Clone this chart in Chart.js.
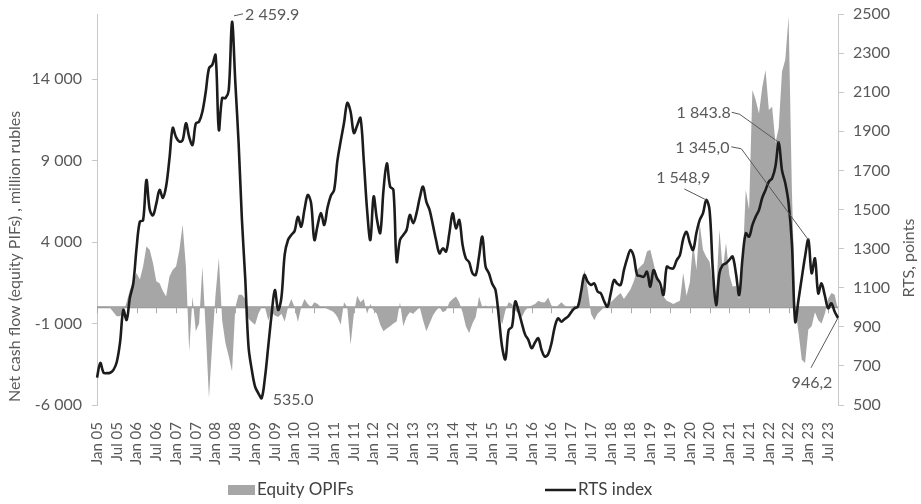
<!DOCTYPE html>
<html>
<head>
<meta charset="utf-8">
<script src="https://cdn.jsdelivr.net/npm/chart.js@4.4.1/dist/chart.umd.min.js"></script>
<style>
  html, body { margin: 0; padding: 0; background: #fff; }
  #wrap { position: relative; width: 921px; height: 504px; }
</style>
</head>
<body>
<div id="wrap"><canvas id="rtsChart"></canvas></div>
<script>
// monthly data, Jan 2005 .. Oct 2023
const monthNames = ["Jan","Feb","Mar","Apr","May","Jun","Jul","Aug","Sep","Oct","Nov","Dec"];
const firstYear = 2005;
const monthCount = 226;

// RTS index, points (right axis)
const rts = [
  640, 715, 665, 663, 665, 680, 720, 820, 986, 935, 1050, 1120,          // 2005
  1300, 1438, 1445, 1651, 1500, 1470, 1530, 1600, 1560, 1620, 1760, 1917, // 2006
  1870, 1847, 1855, 1941, 1870, 1830, 1940, 1950, 2000, 2100, 2222, 2240, // 2007
  2290, 1907, 2070, 2070, 2110, 2459.9, 2150, 1840, 1450, 1150, 800, 680, // 2008
  594, 560, 535, 640, 800, 960, 1088, 986, 1050, 1270, 1344, 1370,        // 2009
  1390, 1463, 1412, 1500, 1574, 1533, 1344, 1420, 1482, 1421, 1510, 1570, // 2010
  1600, 1750, 1850, 1942, 2045, 2000, 1891, 1930, 1968, 1753, 1500, 1344, // 2011
  1566, 1450, 1380, 1600, 1736, 1617, 1600, 1233, 1344, 1370, 1395, 1472, // 2012
  1430, 1480, 1560, 1617, 1540, 1497, 1420, 1340, 1276, 1301, 1285, 1380, // 2013
  1480, 1404, 1446, 1320, 1250, 1230, 1174, 1165, 1260, 1361, 1207, 1174, // 2014
  1120, 1088, 952, 798, 734, 884, 900, 1029, 980, 918, 860, 832,          // 2015
  790, 820, 841, 781, 747, 760, 816, 900, 943, 926, 940, 952,             // 2016
  975, 995, 1003, 1080, 1165, 1130, 1114, 1122, 1080, 1071, 1030, 1003,   // 2017
  1071, 1139, 1120, 1114, 1190, 1250, 1293, 1259, 1165, 1160, 1156, 1182, // 2018
  1105, 1190, 1150, 1122, 1063, 1207, 1200, 1199, 1240, 1267, 1350, 1386, // 2019
  1330, 1293, 1380, 1446, 1480, 1548.9, 1497, 1190, 1011, 1174, 1216, 1225, // 2020
  1242, 1259, 1174, 1063, 1250, 1378, 1361, 1420, 1463, 1497, 1560, 1600, // 2021
  1642, 1660, 1720, 1843.8, 1700, 1634, 1532, 1327, 926, 1037, 1150, 1260, // 2022
  1345.0, 1174, 1250, 1071, 1122, 1060, 995, 1020, 977, 946.2             // 2023
];

// net cash flow of equity OPIFs, million rubles (left axis)
const opif = [
  0, 0, 50, 0, -50, -300, -560, -560, -300, 300, 1070, 1600,              // 2005
  2100, 1700, 2500, 3730, 3530, 2710, 1590, 1480, 1000, 660, 1890, 2300,  // 2006
  2500, 3500, 5060, 2500, -2710, 660, -1480, -1000, 2500, -1370, -5570, -2200, // 2007
  800, 3020, -800, -2200, -3000, -3940, 0, 770, 770, 500, -700, -900,     // 2008
  -1070, -400, 0, 0, -800, -300, -500, -600, -400, -870, 0, 500,          // 2009
  0, -900, 0, 500, 200, 0, 300, 200, 0, 0, -100, -200,                    // 2010
  -300, -600, -1070, 300, 0, -2300, -400, 700, 300, 500, -400, 200,       // 2011
  -200, -400, -1070, -1480, -1300, -1170, -1000, -870, 300, -1170, -600, -300, // 2012
  -400, -200, 0, -800, -1480, -1000, -500, -200, 0, -300, -200, 300,      // 2013
  500, 660, 300, -300, -1170, -1580, -1000, -600, 660, 0, 100, 0,         // 2014
  100, 0, -300, -1070, -200, 300, 200, -200, -400, -600, -200, 0,         // 2015
  100, 200, 400, 300, 300, 600, 100, 0, 100, 300, 100, 0,                 // 2016
  0, 100, 0, 800, 2300, 1100, -400, -800, -400, -200, 0, 200,             // 2017
  300, 500, 700, 870, 500, 800, 1100, 1600, 2300, 2500, 2700, 3420,       // 2018
  3530, 2700, 1800, 1100, 660, 400, 300, 200, 300, 400, 2100, 700,        // 2019
  1500, 3940, 2300, 5160, 3530, 3100, 2800, 1500, 870, 4750, 2300, 3940,  // 2020
  2000, 1280, 1300, 500, 2500, 7210, 6000, 13340, 12730, 11900, 13500, 14570, // 2021
  12100, 12300, 10100, 11000, 14470, 15200, 17840, 7200, 0, -1500, -3220, -3420, // 2022
  -1370, -1170, -300, -800, -1000, -400, 500, 870, 770, -200              // 2023
];

const leftTicks = [-6000, -1000, 4000, 9000, 14000];
const rightTicks = [500, 700, 900, 1100, 1300, 1500, 1700, 1900, 2100, 2300, 2500];

// labelled points of the RTS line
const noteIndex = [41, 50, 185, 207, 216, 225];
const noteText = ["2 459.9", "535.0", "1 548,9", "1 843.8", "1 345,0", "946,2"];

const months = [];
for (let y = firstYear; months.length < monthCount; y++) {
  for (let m = 0; m < 12 && months.length < monthCount; m++) {
    months.push(monthNames[m] + " " + String(y).slice(2));
  }
}

const grey = "#595959";
const fontFamily = "Lato, 'Open Sans', sans-serif";

function fmtThousands(v) {
  const s = Math.abs(v).toString().replace(/\B(?=(\d{3})+(?!\d))/g, " ");
  return (v < 0 ? "-" : "") + s;
}

// where each note's text sits relative to its point, and its leader line
const noteLayout = {
  41:  { dx: 13, dy: -7, align: "left", leader: [[2, -6], [11, -8]] },
  50:  { dx: 11, dy: 2, align: "left", leader: null },
  185: { dx: -23, dy: -22, align: "center", leader: [[-22, -11], [0, 0]] },
  207: { dx: -75, dy: -29, align: "center", leader: [[-47, -30], [-39, -28], [0, 0]] },
  216: { dx: -106, dy: -92, align: "center", leader: [[-77, -93], [-67, -91], [0, 0]] },
  225: { dx: -26, dy: 65, align: "center", leader: [[-27, 50], [0, 0]] }
};

const decor = {
  id: "decor",
  beforeDatasetsDraw(chart) {
    const { ctx, chartArea, scales } = chart;
    const y0 = scales.y.getPixelForValue(0);
    ctx.save();
    ctx.strokeStyle = "#999";
    ctx.lineWidth = 2;
    ctx.beginPath();
    ctx.moveTo(chartArea.left, y0);
    ctx.lineTo(chartArea.right, y0);
    ctx.stroke();
    ctx.lineWidth = 1;
    ctx.strokeStyle = "#aaa";
    for (let i = 0; i < months.length; i += 6) {
      const x = Math.round(scales.x.getPixelForValue(i)) + 0.5;
      ctx.beginPath();
      ctx.moveTo(x, y0);
      ctx.lineTo(x, y0 + 6);
      ctx.stroke();
    }
    ctx.restore();
  },
  afterDraw(chart) {
    const { ctx, chartArea, scales } = chart;
    ctx.save();
    ctx.fillStyle = grey;
    ctx.strokeStyle = grey;
    ctx.lineWidth = 1;
    ctx.font = "16px " + fontFamily;
    ctx.textBaseline = "middle";

    // value notes
    noteIndex.forEach((idx, k) => {
      const px = scales.x.getPixelForValue(idx);
      const py = scales.y1.getPixelForValue(rts[idx]);
      const lay = noteLayout[idx];
      ctx.textAlign = lay.align;
      ctx.fillText(noteText[k], px + lay.dx, py + lay.dy);
      if (lay.leader) {
        ctx.beginPath();
        lay.leader.forEach((p, j) => {
          if (j === 0) ctx.moveTo(px + p[0], py + p[1]);
          else ctx.lineTo(px + p[0], py + p[1]);
        });
        ctx.stroke();
      }
    });

    // axis titles, both read bottom to top
    ctx.textAlign = "left";
    ctx.save();
    ctx.translate(15, chartArea.bottom - 3);
    ctx.rotate(-Math.PI / 2);
    ctx.fillText("Net cash flow (equity PIFs) , million rubles", 0, 0);
    ctx.restore();
    ctx.save();
    ctx.translate(909, scales.y1.getPixelForValue(1050));
    ctx.rotate(-Math.PI / 2);
    ctx.fillText("RTS, points", 0, 0);
    ctx.restore();

    // legend
    const ly = 490;
    ctx.font = "17px " + fontFamily;
    ctx.fillStyle = "#a6a6a6";
    ctx.fillRect(228, ly - 5, 27, 10);
    ctx.fillStyle = "#404040";
    ctx.fillText("Equity OPIFs", 257, ly);
    ctx.strokeStyle = "#1c1c1c";
    ctx.lineWidth = 2.5;
    ctx.beginPath();
    ctx.moveTo(545, ly);
    ctx.lineTo(576, ly);
    ctx.stroke();
    ctx.fillText("RTS index", 578, ly);
    ctx.restore();
  }
};

const ctx = document.getElementById("rtsChart").getContext("2d");
new Chart(ctx, {
  type: "line",
  data: {
    labels: months,
    datasets: [
      {
        label: "RTS index",
        data: rts,
        yAxisID: "y1",
        borderColor: "#1c1c1c",
        borderWidth: 2.6,
        pointRadius: 0,
        tension: 0.35,
        fill: false,
        order: 0
      },
      {
        label: "Equity OPIFs",
        data: opif,
        yAxisID: "y",
        borderWidth: 0,
        backgroundColor: "#a6a6a6",
        pointRadius: 0,
        tension: 0,
        fill: "origin",
        order: 1
      }
    ]
  },
  options: {
    responsive: true,
    maintainAspectRatio: false,
    animation: false,
    layout: { padding: { top: 14, left: 0, right: 0, bottom: 0 } },
    plugins: {
      legend: { display: false },
      tooltip: { enabled: false }
    },
    scales: {
      x: {
        type: "category",
        offset: false,
        grid: { display: false },
        border: { display: false },
        ticks: {
          autoSkip: false,
          minRotation: 90,
          maxRotation: 90,
          padding: 9,
          color: grey,
          font: { family: fontFamily, size: 15 },
          callback: function (val, i) { return i % 6 === 0 ? this.getLabelForValue(val) : null; }
        },
        afterFit: (s) => { s.height = 99; s.paddingLeft = 0; s.paddingRight = 0; }
      },
      y: {
        position: "left",
        min: -6000,
        max: 18000,
        grid: { display: true, drawOnChartArea: false, drawTicks: true, tickLength: 5, color: "#c8c8c8" },
        border: { display: true, color: "#c8c8c8" },
        afterBuildTicks: (s) => { s.ticks = leftTicks.map(v => ({ value: v })); },
        ticks: {
          padding: 10,
          color: grey,
          font: { family: fontFamily, size: 16 },
          callback: (v) => fmtThousands(v)
        },
        afterFit: (s) => { s.width = 97; s.paddingTop = 0; s.paddingBottom = 0; }
      },
      y1: {
        position: "right",
        min: 500,
        max: 2500,
        grid: { display: true, drawOnChartArea: false, drawTicks: true, tickLength: 6, color: "#c8c8c8" },
        border: { display: true, color: "#c8c8c8" },
        afterBuildTicks: (s) => { s.ticks = rightTicks.map(v => ({ value: v })); },
        ticks: {
          padding: 9,
          color: grey,
          font: { family: fontFamily, size: 16 },
          callback: (v) => String(v)
        },
        afterFit: (s) => { s.width = 83; s.paddingTop = 0; s.paddingBottom = 0; }
      }
    }
  },
  plugins: [decor]
});
</script>
</body>
</html>
